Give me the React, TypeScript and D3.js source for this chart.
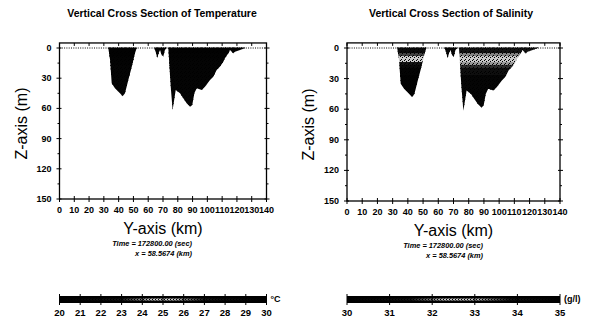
import * as d3 from "d3";

// tick labels
const kmTicks = [0, 10, 20, 30, 40, 50, 60, 70, 80, 90, 100, 110, 120, 130, 140];
const depthTicks = [0, 30, 60, 90, 120, 150];
const depthMinor = [15, 45, 75, 105, 135];
const tempTicks = [20, 21, 22, 23, 24, 25, 26, 27, 28, 29, 30];
const salTicks = [30, 31, 32, 33, 34, 35];

// bottom profile of the three wet basins (km, depth m)
const westKm = [33.0, 34.2, 35.3, 37.5, 40.9, 42.7, 44.3, 46.5, 48.8, 51.1, 52.2];
const westDepth = [0, 12, 35, 40, 45, 48, 45, 32, 19, 5, 0];
const midKm = [64.1, 65.3, 66.1, 67.1, 68.0, 69.1, 70.2, 71.3, 72.5];
const midDepth = [0, 5, 10, 5, 2, 7, 8.5, 2, 0];
const eastKm = [73.6, 75.2, 76.5, 78.6, 81.5, 83.7, 86.0, 88.3, 89.8, 91.2, 92.8, 96.2, 98.4, 101.8, 104.0, 106.3, 108.6, 110.8, 111.9, 114.2, 115.3, 117.5, 118.7, 122.1, 125.5];
const eastDepth = [0, 38, 61.6, 41.7, 45, 50, 55, 58.3, 56.6, 45, 40, 41.7, 38.4, 31.8, 28.5, 21.8, 18.5, 13.6, 10.2, 5.3, 2, 5.3, 3.7, 2, 0];

// layered fields: zone edges (km), layer edges (m), values per zone
const zoneEdges = [0, 58, 73, 140];
const layerEdges = [0, 5, 8, 11, 14, 17, 20, 26, 70];
const tempWest = [29.7, 29.7, 29.6, 29.6, 29.6, 29.5, 29.5, 29.5];
const tempMid = [29.8, 29.8, 29.7, 29.7, 29.7, 29.7, 29.7, 29.7];
const tempEast = [29.7, 29.6, 29.6, 29.5, 29.5, 29.5, 29.4, 29.4];
const salWest = [34.4, 33.6, 32.7, 32.6, 33.9, 34.5, 34.8, 34.9];
const salMid = [34.6, 34.7, 34.8, 34.9, 34.9, 34.9, 34.9, 34.9];
const salEast = [33.9, 33.3, 32.8, 32.7, 33.2, 33.7, 34.2, 34.7];

const basins = [
  { km: westKm, depth: westDepth },
  { km: midKm, depth: midDepth },
  { km: eastKm, depth: eastDepth },
];

const tempColor = d3
  .scaleLinear<string>()
  .domain([20, 23, 24.5, 25.5, 27, 30])
  .range(["#000", "#151515", "#d0d0d0", "#d0d0d0", "#151515", "#000"])
  .clamp(true);

const salColor = d3
  .scaleLinear<string>()
  .domain([30, 31.5, 32.3, 33.0, 33.8, 35])
  .range(["#000", "#151515", "#cfcfcf", "#c4c4c4", "#151515", "#000"])
  .clamp(true);

const font = "'Liberation Sans', Arial, sans-serif";

interface SectionProps {
  id: string;
  x0: number;
  x1: number;
  y0: number;
  y1: number;
  title: string;
  titleX: number;
  zaxisX: number;
  fields: number[][];
  color: (v: number) => string;
  barTicks: number[];
  unit: string;
  timeX: number;
}

function Section(p: SectionProps) {
  const x = d3.scaleLinear().domain([0, 140]).range([p.x0, p.x1]);
  const y = d3.scaleLinear().domain([0, 150]).range([p.y0, p.y1]);
  const top = y(-5);
  const bottom = y(150);
  const area = d3
    .area<[number, number]>()
    .x((d) => x(d[0]))
    .y0(y(0) - 0.5)
    .y1((d) => y(d[1]));

  const bx = d3
    .scaleLinear()
    .domain([p.barTicks[0], p.barTicks[p.barTicks.length - 1]])
    .range([p.x0, p.x1]);
  const barY = 296;
  const barH = 7;
  const stops = d3.range(0, 1.0001, 0.02);

  return (
    <g fontFamily={font}>
      <defs>
        <clipPath id={`clip-${p.id}`}>
          {basins.map((b, i) => (
            <path key={i} d={area(b.km.map((k, j) => [k, b.depth[j]] as [number, number])) ?? ""} />
          ))}
        </clipPath>
        <linearGradient id={`grad-${p.id}`} x1="0" x2="1" y1="0" y2="0">
          {stops.map((t) => (
            <stop key={t} offset={t} stopColor={p.color(bx.invert(p.x0 + t * (p.x1 - p.x0)))} />
          ))}
        </linearGradient>
        <pattern id={`dots-${p.id}`} width={4} height={4} patternUnits="userSpaceOnUse">
          <rect x={0} y={0} width={1} height={1} fill="#000" />
          <rect x={2} y={1} width={1} height={1} fill="#000" />
          <rect x={1} y={3} width={1} height={1} fill="#000" />
        </pattern>
        <pattern id={`bardots-${p.id}`} width={3} height={2} patternUnits="userSpaceOnUse">
          <rect x={0} y={0} width={1} height={1} fill="#000" />
          <rect x={2} y={1} width={1} height={1} fill="#000" />
        </pattern>
      </defs>

      <text x={p.titleX} y={17} textAnchor="middle" fontSize={10.5} fontWeight="bold">
        {p.title}
      </text>

      {/* field */}
      <g clipPath={`url(#clip-${p.id})`} shapeRendering="crispEdges">
        {p.fields.map((vals, zi) =>
          vals.map((v, li) => (
            <rect
              key={`${zi}-${li}`}
              x={x(zoneEdges[zi])}
              width={x(zoneEdges[zi + 1]) - x(zoneEdges[zi]) + 1}
              y={y(layerEdges[li]) - (li === 0 ? 2 : 0)}
              height={y(layerEdges[li + 1]) - y(layerEdges[li]) + 1 + (li === 0 ? 2 : 0)}
              fill={p.color(v)}
            />
          ))
        )}
        <rect x={p.x0} y={p.y0 - 2} width={p.x1 - p.x0} height={80} fill={`url(#dots-${p.id})`} />
      </g>

      {/* frame */}
      <rect x={p.x0} y={top} width={p.x1 - p.x0} height={bottom - top} fill="none" stroke="#000" strokeWidth={1.3} />
      <line x1={p.x0} x2={p.x1} y1={y(0)} y2={y(0)} stroke="#000" strokeWidth={1} strokeDasharray="1,1.3" />

      {kmTicks.map((k) => (
        <g key={k}>
          <line x1={x(k)} x2={x(k)} y1={top} y2={top + 3} stroke="#000" />
          <line x1={x(k)} x2={x(k)} y1={bottom - 3} y2={bottom + 3} stroke="#000" />
          <text x={x(k)} y={bottom + 14} textAnchor="middle" fontSize={9} fontWeight="bold">
            {k}
          </text>
        </g>
      ))}
      {depthTicks.map((d) => (
        <g key={d}>
          <line x1={p.x0 - 3} x2={p.x0 + 2} y1={y(d)} y2={y(d)} stroke="#000" />
          <line x1={p.x1 - 2} x2={p.x1 + 3} y1={y(d)} y2={y(d)} stroke="#000" />
          <text x={p.x0 - 8} y={y(d) + 3} textAnchor="end" fontSize={9} fontWeight="bold">
            {d}
          </text>
        </g>
      ))}
      {depthMinor.map((d) => (
        <g key={d}>
          <line x1={p.x0 - 2} x2={p.x0} y1={y(d)} y2={y(d)} stroke="#000" />
          <line x1={p.x1} x2={p.x1 + 2} y1={y(d)} y2={y(d)} stroke="#000" />
        </g>
      ))}

      <text
        transform={`translate(${p.zaxisX},${(y(0) + bottom) / 2}) rotate(-90)`}
        textAnchor="middle"
        fontSize={16}
      >
        Z-axis (m)
      </text>
      <text x={(p.x0 + p.x1) / 2} y={bottom + 35} textAnchor="middle" fontSize={16}>
        Y-axis (km)
      </text>

      <text x={p.timeX} y={bottom + 47} textAnchor="end" fontSize={7.4} fontWeight="bold" fontStyle="italic">
        Time =  172800.00 (sec)
      </text>
      <text x={p.timeX} y={bottom + 57} textAnchor="end" fontSize={7.4} fontWeight="bold" fontStyle="italic">
        x = 58.5674 (km)
      </text>

      {/* colour bar */}
      <rect x={p.x0} y={barY} width={p.x1 - p.x0} height={barH} fill="#000" />
      <rect x={p.x0} y={barY + 2.5} width={p.x1 - p.x0} height={2} fill={`url(#grad-${p.id})`} />
      <rect x={p.x0} y={barY + 2.5} width={p.x1 - p.x0} height={2} fill={`url(#bardots-${p.id})`} />
      {p.barTicks.map((t) => (
        <g key={t}>
          <line x1={bx(t)} x2={bx(t)} y1={barY - 2} y2={barY + barH + 2} stroke="#000" />
          <text x={bx(t)} y={barY + 20} textAnchor="middle" fontSize={9.5} fontWeight="bold">
            {t}
          </text>
        </g>
      ))}
      <text x={p.x1 + 4} y={barY + 6} fontSize={9} fontWeight="bold">
        {p.unit}
      </text>
    </g>
  );
}

export default function App() {
  return (
    <svg
      width={589}
      height={320}
      style={{ position: "absolute", left: 0, top: 0, background: "#fff" }}
    >
      <Section
        id="temp"
        x0={59.5}
        x1={266.5}
        y0={48}
        y1={199}
        title="Vertical Cross Section of Temperature"
        titleX={162}
        zaxisX={27}
        fields={[tempWest, tempMid, tempEast]}
        color={tempColor}
        barTicks={tempTicks}
        unit="°C"
        timeX={192}
      />
      <Section
        id="sal"
        x0={347}
        x1={560}
        y0={48}
        y1={201}
        title="Vertical Cross Section of Salinity"
        titleX={451}
        zaxisX={314}
        fields={[salWest, salMid, salEast]}
        color={salColor}
        barTicks={salTicks}
        unit="(g/l)"
        timeX={483}
      />
    </svg>
  );
}
